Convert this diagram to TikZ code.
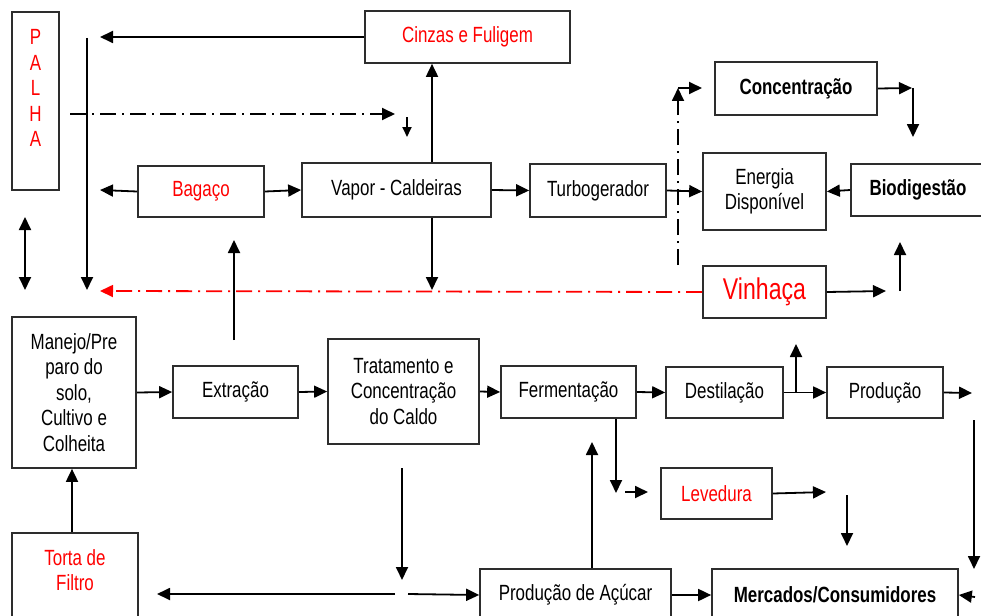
\documentclass[tikz,border=0pt]{standalone}
\usepackage{fontspec}
\setmainfont{Liberation Sans}[FakeStretch=0.77]
\usetikzlibrary{arrows.meta}
\definecolor{vermelho}{RGB}{255,0,0}
\definecolor{contorno}{RGB}{45,45,45}

\begin{document}
\begin{tikzpicture}[x=1pt, y=-1pt, >={Triangle[length=13pt,width=12pt]},
  caixa/.style={draw=contorno, line width=1.7pt, inner sep=0pt, align=center,
    font=\fontsize{22}{25.5}\selectfont},
  residuo/.style={caixa, text=vermelho},
  negrito/.style={font=\fontsize{22}{25.5}\selectfont\bfseries},
  fluxo/.style={line width=1.8pt, ->},
  tracoponto/.style={line width=1.8pt, dash pattern=on 16pt off 6pt on 2pt off 6pt}]
\useasboundingbox (0,0) rectangle (981,615);
\fill[white] (0,0) rectangle (981,615);

% caixas
\node[residuo, minimum width=47, minimum height=178] (palha) at (35.5,101) {P\\A\\L\\H\\A\\\mbox{}};
\node[residuo, minimum width=205, minimum height=52] (cinzas) at (467.5,37) {Cinzas e Fuligem};
\node[residuo, minimum width=126, minimum height=51] (bagaco) at (201,191.5) {Bagaço};
\node[caixa, minimum width=189, minimum height=54] (vapor) at (396.5,190) {Vapor - Caldeiras};
\node[caixa, minimum width=136, minimum height=53] (turbo) at (598,190.5) {Turbogerador};
\node[caixa, minimum width=123, minimum height=77] (energia) at (764.5,191.5) {Energia\\Disponível};
\node[caixa, negrito, minimum width=134, minimum height=52] (biodig) at (918,190) {Biodigestão};
\node[caixa, negrito, minimum width=162, minimum height=53] (concent) at (796,88.5) {Concentração};
\node[residuo, font=\fontsize{30}{34}\selectfont, minimum width=123, minimum height=52] (vinhaca) at (764.5,292) {Vinhaça};
\node[caixa, minimum width=124, minimum height=151] (manejo) at (74,392.5) {Manejo/Pre\\paro do\\solo,\\Cultivo e\\Colheita};
\node[caixa, minimum width=125, minimum height=52] (extracao) at (235.5,392) {Extração};
\node[caixa, minimum width=151, minimum height=105] (tratamento) at (403.5,391.5) {Tratamento e\\Concentração\\do Caldo};
\node[caixa, minimum width=135, minimum height=52] (fermentacao) at (568.5,392) {Fermentação};
\node[caixa, minimum width=117, minimum height=51] (destilacao) at (724.5,392.5) {Destilação};
\node[caixa, minimum width=116, minimum height=51] (producao) at (885,392.5) {Produção};
\node[residuo, minimum width=111, minimum height=51] (levedura) at (716.5,493.5) {Levedura};
\node[caixa, minimum width=191, minimum height=52] (acucar) at (575.5,595) {Produção de Açúcar};
\node[caixa, negrito, minimum width=246, minimum height=52] (mercados) at (835,595) {Mercados/Consumidores};
\node[residuo, minimum width=126, minimum height=100] (torta) at (75,583) {Torta de\\Filtro\\\mbox{}};

% pontas soltas
\coordinate (cinzasfim) at (100,37);
\coordinate (descetopo) at (87,38);
\coordinate (descefim) at (87,290);
\coordinate (palhaini) at (70,114);
\coordinate (palhafim) at (395,114);
\coordinate (setinhaini) at (407,117);
\coordinate (setinhafim) at (407,137);
\coordinate (xcald) at (432,0);
\coordinate (caldbaixo) at (432,290);
\coordinate (vinhacafim) at (100,291);
\coordinate (bagacofim) at (100,190);
\coordinate (tracoini) at (678,265);
\coordinate (tracocanto) at (678,88);
\coordinate (tracofim) at (702,88);
\coordinate (concfim) at (912,88);
\coordinate (conccanto) at (913,88);
\coordinate (concbaixo) at (913,137);
\coordinate (biofim) at (886,291);
\coordinate (bioini) at (900,291);
\coordinate (biotopo) at (900,242);
\coordinate (manejoa) at (25,217);
\coordinate (manejob) at (25,290);
\coordinate (bagacoini) at (234,340);
\coordinate (bagacotopo) at (234,240);
\coordinate (xvinh) at (796,0);
\coordinate (vinhtopo) at (796,344);
\coordinate (prodfim) at (972,393);
\coordinate (mercini) at (974,420);
\coordinate (mercfim) at (974,569);
\coordinate (mercdir) at (975,597);
\coordinate (xferm) at (616,0);
\coordinate (fermbaixo) at (616,493);
\coordinate (levini) at (625,492);
\coordinate (levfim) at (648,492);
\coordinate (levsai) at (826,492);
\coordinate (merctopo) at (847,495);
\coordinate (mercbaixo) at (847,546);
\coordinate (xacucar) at (592,0);
\coordinate (acucartopo) at (592,442);
\coordinate (caldoini) at (402,468);
\coordinate (caldofim) at (402,580);
\coordinate (tortaesq) at (157,594);
\coordinate (divide1) at (395,594);
\coordinate (divide2) at (408,594);
\coordinate (xtorta) at (72,0);

% fluxos de cima
\draw[fluxo] (cinzas.west) -- (cinzasfim);
\draw[fluxo] (descetopo) -- (descefim);
\draw[tracoponto, ->] (palhaini) -- (palhafim);
\draw[line width=1.8pt, ->, >={Triangle[length=10pt,width=9pt]}] (setinhaini) -- (setinhafim);
\draw[fluxo] (vapor.north -| xcald) -- (cinzas.south -| xcald);
\draw[fluxo] (vapor.south -| xcald) -- (caldbaixo);
\draw[tracoponto, vermelho, ->] (vinhaca.west) -- (vinhacafim);
\draw[fluxo] (bagaco.west) -- (bagacofim);
\draw[fluxo] (bagaco.east) -- (vapor.west);
\draw[fluxo] (vapor.east) -- (turbo.west);
\draw[fluxo] (turbo.east) -- (energia.west);
\draw[tracoponto, ->] (tracoini) -- (tracocanto);
\draw[fluxo] (tracocanto) -- (tracofim);
\draw[fluxo] (concent.east) -- (concfim);
\draw[fluxo] (conccanto) -- (concbaixo);
\draw[fluxo] (biodig.west) -- (energia.east);
\draw[fluxo] (vinhaca.east) -- (biofim);
\draw[fluxo] (bioini) -- (biotopo);
\draw[fluxo, <->] (manejoa) -- (manejob);
\draw[fluxo] (bagacoini) -- (bagacotopo);

% linha de processo
\draw[fluxo] (manejo.east) -- (extracao.west);
\draw[fluxo] (extracao.east) -- (tratamento.west);
\draw[fluxo] (tratamento.east) -- (fermentacao.west);
\draw[fluxo] (fermentacao.east) -- (destilacao.west);
\draw[fluxo] (destilacao.east) -- (producao.west);
\draw[fluxo] (destilacao.east -| xvinh) -- (vinhtopo);
\draw[fluxo] (producao.east) -- (prodfim);
\draw[fluxo] (mercini) -- (mercfim);
\draw[fluxo] (mercdir) -- (mercados.east);

% parte de baixo
\draw[fluxo] (fermentacao.south -| xferm) -- (fermbaixo);
\draw[fluxo] (levini) -- (levfim);
\draw[fluxo] (levedura.east) -- (levsai);
\draw[fluxo] (merctopo) -- (mercbaixo);
\draw[fluxo] (acucar.north -| xacucar) -- (acucartopo);
\draw[fluxo] (caldoini) -- (caldofim);
\draw[fluxo] (divide1) -- (tortaesq);
\draw[fluxo] (divide2) -- (acucar.west);
\draw[fluxo] (acucar.east) -- (mercados.west);
\draw[fluxo] (torta.north -| xtorta) -- (manejo.south -| xtorta);
\end{tikzpicture}
\end{document}
